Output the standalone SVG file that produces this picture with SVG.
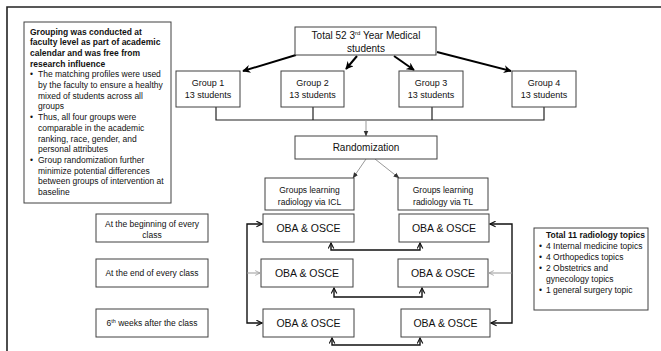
<svg xmlns="http://www.w3.org/2000/svg" width="661" height="351" viewBox="0 0 661 351">
<defs>
<style>
.box{fill:#fff;stroke:#404040;stroke-width:1}
.t{font-family:"Liberation Sans",Arial,sans-serif;fill:#111}
.s85{font-size:8.5px}
.s9{font-size:9px}
.s10{font-size:10px}
.s105{font-size:10.5px}
.b{font-weight:bold}
.c{text-anchor:middle}
.thick{stroke:#000;stroke-width:2;fill:none}
.blk{stroke:#111;stroke-width:1.4;fill:none}
.gry{stroke:#999;stroke-width:1;fill:none}
.bus{stroke:#222;stroke-width:1.2;fill:none}
</style>
<marker id="ah" viewBox="0 0 10 10" refX="9" refY="5" markerWidth="4" markerHeight="4" orient="auto-start-reverse" markerUnits="strokeWidth">
<path d="M0,0 L10,5 L0,10 L3,5 z" fill="#000"/>
</marker>
<marker id="ao" viewBox="0 0 10 10" refX="9" refY="5" markerWidth="5" markerHeight="5" orient="auto-start-reverse" markerUnits="strokeWidth">
<path d="M1,1 L9,5 L1,9" fill="none" stroke="#111" stroke-width="1.6"/>
</marker>
<marker id="ag" viewBox="0 0 10 10" refX="9" refY="5" markerWidth="6" markerHeight="6" orient="auto-start-reverse" markerUnits="strokeWidth">
<path d="M1,1 L9,5 L1,9" fill="none" stroke="#999" stroke-width="1.3"/>
</marker>
<marker id="agf" viewBox="0 0 10 10" refX="9" refY="5" markerWidth="6" markerHeight="6" orient="auto" markerUnits="strokeWidth">
<path d="M0,1 L10,5 L0,9 z" fill="#333"/>
</marker>
</defs>
<rect width="661" height="351" fill="#fff"/>
<path d="M7,351 V7 H661" fill="none" stroke="#222" stroke-width="1.6"/>

<g id="connectors">
<line class="thick" x1="296" y1="55" x2="243" y2="71" marker-end="url(#ah)"/>
<line class="thick" x1="357" y1="56" x2="346" y2="69" marker-end="url(#ah)"/>
<line class="thick" x1="394" y1="56" x2="414" y2="70" marker-end="url(#ah)"/>
<line class="thick" x1="437" y1="52" x2="511" y2="71" marker-end="url(#ah)"/>
<path class="bus" d="M216,107 V120 H544 V107 M313,107 V120 M432,107 V120"/>
<line class="gry" x1="366" y1="120" x2="366" y2="136" marker-end="url(#agf)"/>
<line class="gry" x1="366" y1="159" x2="353" y2="178" marker-end="url(#agf)"/>
<line class="gry" x1="375" y1="159" x2="399" y2="178" marker-end="url(#agf)"/>
<path class="blk" d="M262,224 H247 V323 H262" marker-start="url(#ao)" marker-end="url(#ao)"/>
<line class="gry" x1="247" y1="273" x2="260" y2="273" marker-end="url(#ag)"/>
<path class="blk" d="M490,224 H512 V323 H491" marker-start="url(#ao)" marker-end="url(#ao)"/>
<line class="gry" x1="512" y1="273" x2="489" y2="273" marker-end="url(#ag)"/>
<path class="blk" d="M331,243 V250 H420 V243" marker-start="url(#ao)" marker-end="url(#ao)"/>
<path class="blk" d="M334,288 V297 H422 V288" marker-start="url(#ao)" marker-end="url(#ao)"/>
<path class="blk" d="M332,338 V345 H420 V338" marker-start="url(#ao)" marker-end="url(#ao)"/>
</g>

<g id="note-grouping">
<rect class="box" x="24" y="22" width="147" height="181"/>
<text class="t s85 b" x="30"><tspan x="30" y="34.5">Grouping was conducted at</tspan><tspan x="30" y="45.2">faculty level as part of academic</tspan><tspan x="30" y="55.9">calendar and was free from</tspan><tspan x="30" y="66.6">research influence</tspan></text>
<text class="t s85">
<tspan x="30" y="77.3">•</tspan><tspan x="38" y="77.3">The matching profiles were used</tspan>
<tspan x="38" y="88">by the faculty to ensure a healthy</tspan>
<tspan x="38" y="98.7">mixed of students across all</tspan>
<tspan x="38" y="109.4">groups</tspan>
<tspan x="30" y="120.1">•</tspan><tspan x="38" y="120.1">Thus, all four groups were</tspan>
<tspan x="38" y="130.8">comparable in the academic</tspan>
<tspan x="38" y="141.5">ranking, race, gender, and</tspan>
<tspan x="38" y="152.2">personal attributes</tspan>
<tspan x="30" y="162.9">•</tspan><tspan x="38" y="162.9">Group randomization further</tspan>
<tspan x="38" y="173.6">minimize potential differences</tspan>
<tspan x="38" y="184.3">between groups of intervention at</tspan>
<tspan x="38" y="195">baseline</tspan>
</text>
</g>

<g id="total">
<rect class="box" x="295" y="27" width="141" height="28"/>
<text class="t s10 c" x="366" y="38.5">Total 52 3<tspan font-size="6" dy="-3.5">rd</tspan><tspan dy="3.5"> Year Medical</tspan></text>
<text class="t s10 c" x="366" y="51.5">students</text>
</g>

<g id="group1">
<rect class="box" x="176" y="71" width="64" height="36"/>
<text class="t s9 c" x="208" y="86">Group 1</text>
<text class="t s9 c" x="208" y="98">13 students</text>
</g>
<g id="group2">
<rect class="box" x="281" y="71" width="63" height="36"/>
<text class="t s9 c" x="312.5" y="86">Group 2</text>
<text class="t s9 c" x="312.5" y="98">13 students</text>
</g>
<g id="group3">
<rect class="box" x="399" y="71" width="64" height="36"/>
<text class="t s9 c" x="431" y="86">Group 3</text>
<text class="t s9 c" x="431" y="98">13 students</text>
</g>
<g id="group4">
<rect class="box" x="512" y="71" width="64" height="36"/>
<text class="t s9 c" x="544" y="86">Group 4</text>
<text class="t s9 c" x="544" y="98">13 students</text>
</g>

<g id="randomization">
<rect class="box" x="295" y="136" width="142" height="23"/>
<text class="t s10 c" x="366" y="151">Randomization</text>
</g>

<g id="icl">
<rect class="box" x="265" y="178" width="89" height="32"/>
<text class="t s85 c" x="309.5" y="193">Groups learning</text>
<text class="t s85 c" x="309.5" y="205">radiology via ICL</text>
</g>
<g id="tl">
<rect class="box" x="398" y="178" width="90" height="32"/>
<text class="t s85 c" x="443" y="193">Groups learning</text>
<text class="t s85 c" x="443" y="205">radiology via TL</text>
</g>

<g id="label-beginning">
<rect class="box" x="96" y="214" width="112" height="28"/>
<text class="t s85 c" x="152" y="227">At the beginning of every</text>
<text class="t s85 c" x="152" y="237.5">class</text>
</g>
<g id="label-end">
<rect class="box" x="96" y="259" width="112" height="28"/>
<text class="t s85 c" x="152" y="276">At the end of every class</text>
</g>
<g id="label-6weeks">
<rect class="box" x="96" y="309" width="112" height="28"/>
<text class="t s85 c" x="152" y="326">6<tspan font-size="5.5" dy="-3">th</tspan><tspan dy="3"> weeks after the class</tspan></text>
</g>

<g id="oba-icl-1">
<rect class="box" x="263" y="214" width="91" height="28"/>
<text class="t s105 c" x="308.5" y="232">OBA &amp; OSCE</text>
</g>
<g id="oba-icl-2">
<rect class="box" x="261" y="259" width="92" height="28"/>
<text class="t s105 c" x="307" y="277">OBA &amp; OSCE</text>
</g>
<g id="oba-icl-3">
<rect class="box" x="263" y="309" width="91" height="28"/>
<text class="t s105 c" x="308.5" y="327">OBA &amp; OSCE</text>
</g>
<g id="oba-tl-1">
<rect class="box" x="399" y="214" width="90" height="28"/>
<text class="t s105 c" x="444" y="232">OBA &amp; OSCE</text>
</g>
<g id="oba-tl-2">
<rect class="box" x="398" y="259" width="90" height="28"/>
<text class="t s105 c" x="443" y="277">OBA &amp; OSCE</text>
</g>
<g id="oba-tl-3">
<rect class="box" x="401" y="309" width="89" height="28"/>
<text class="t s105 c" x="445.5" y="327">OBA &amp; OSCE</text>
</g>

<g id="topics">
<rect class="box" x="534" y="228" width="114" height="82"/>
<text class="t s85 b" x="546" y="237.5">Total 11 radiology topics</text>
<text class="t s85">
<tspan x="539" y="249">•</tspan><tspan x="546" y="249">4 Internal medicine topics</tspan>
<tspan x="539" y="260">•</tspan><tspan x="546" y="260">4 Orthopedics topics</tspan>
<tspan x="539" y="271">•</tspan><tspan x="546" y="271">2 Obstetrics and</tspan>
<tspan x="546" y="282">gynecology topics</tspan>
<tspan x="539" y="293">•</tspan><tspan x="546" y="293">1 general surgery topic</tspan>
</text>
</g>
</svg>
